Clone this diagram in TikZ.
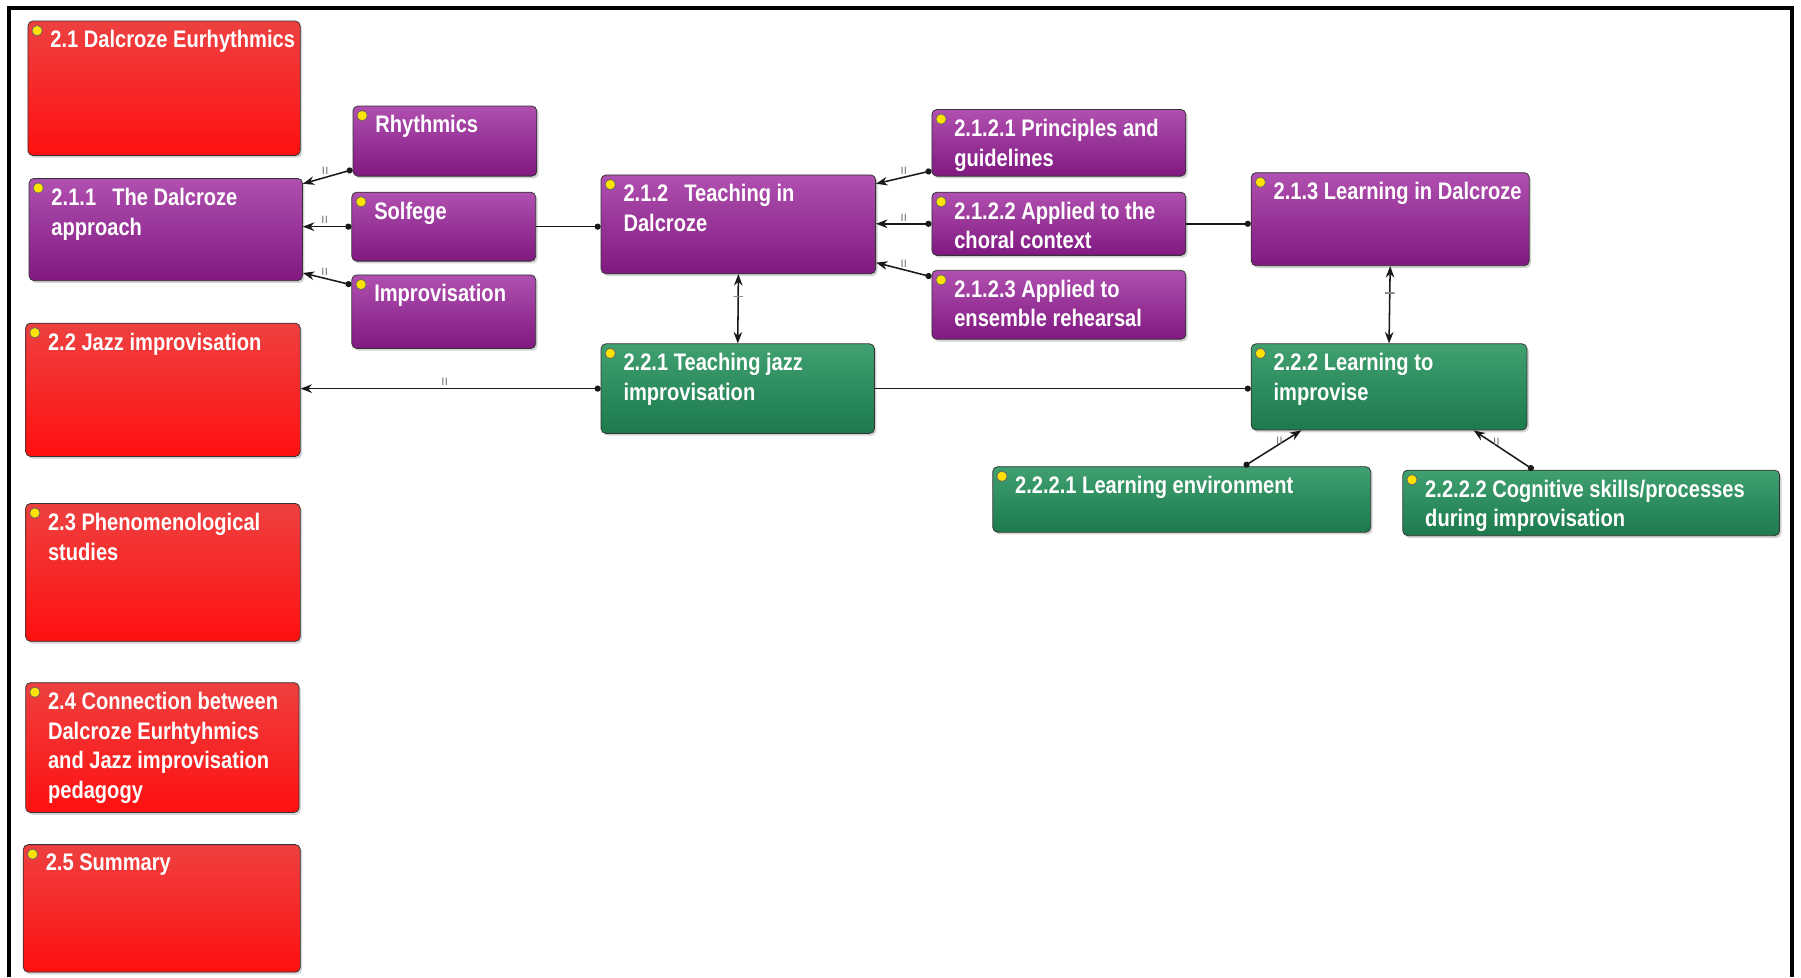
\documentclass[tikz,border=0pt]{standalone}
\usepackage{fontspec}
\newfontfamily\cardfont{Liberation Sans}[FakeStretch=0.84]
\usetikzlibrary{arrows.meta,shadows}
\definecolor{redtop}{RGB}{238,64,64}
\definecolor{redbot}{RGB}{255,16,16}
\definecolor{purtop}{RGB}{176,80,176}
\definecolor{purbot}{RGB}{128,24,128}
\definecolor{grntop}{RGB}{64,160,112}
\definecolor{grnbot}{RGB}{28,122,76}
\tikzset{
  card/.style={draw=black!80, rounded corners=2.5pt, anchor=north west, inner sep=0pt,
               drop shadow={shadow xshift=1pt, shadow yshift=-1.2pt, opacity=.35},
               path picture={\draw[black!60, fill=yellow!85!orange]
                 ([shift={(4.8pt,-5pt)}]path picture bounding box.north west) circle (2.7pt);}},
  redcard/.style={card, top color=redtop, bottom color=redbot},
  purplecard/.style={card, top color=purtop, bottom color=purbot},
  greencard/.style={card, top color=grntop, bottom color=grnbot},
  cardtext/.style={anchor=north west, align=left, text=white, inner xsep=11.7pt, inner ysep=5pt,
                   font=\cardfont\bfseries\fontsize{12.5}{15.5}\selectfont},
  link/.style={{Circle[length=3.2pt]}-{Stealth[length=6pt,width=4.5pt]}, thick, black!90},
  assoc/.style={-{Circle[length=3.2pt]}, thick, black!90},
  both/.style={{Stealth[length=6pt,width=4.5pt]}-{Stealth[length=6pt,width=4.5pt]}, thick, black!90},
  cardmark/.style={font=\sffamily\fontsize{5.5}{6}\selectfont, text=black!55, inner sep=1pt},
  crossbar/.style={draw=black!45, minimum width=5pt, minimum height=0pt, inner sep=0pt}
}
\begin{document}
\begin{tikzpicture}[x=0.6pt, y=-0.6pt]
  \useasboundingbox (0,0) rectangle (1568,851);
  \draw[line width=2.2pt] (8,851) -- (8,7) -- (1560,7) -- (1560,851);

  % left column
  \node[redcard, minimum width=142.2pt, minimum height=70.2pt,
        label={[cardtext]north west:{2.1 Dalcroze Eurhythmics}}] (s21) at (24,18) {};
  \node[purplecard, minimum width=142.8pt, minimum height=53.4pt,
        label={[cardtext]north west:{2.1.1\hspace{5.5pt} The Dalcroze\\approach}}] (s211) at (25,155) {};
  \node[redcard, minimum width=143.4pt, minimum height=69.6pt,
        label={[cardtext]north west:{2.2 Jazz improvisation}}] (s22) at (22,281) {};
  \node[redcard, minimum width=143.4pt, minimum height=72pt,
        label={[cardtext]north west:{2.3 Phenomenological\\studies}}] (s23) at (22,438) {};
  \node[redcard, minimum width=142.8pt, minimum height=67.8pt,
        label={[cardtext]north west:{2.4 Connection between\\Dalcroze Eurhtyhmics\\and Jazz improvisation\\pedagogy}}] (s24) at (22,594) {};
  \node[redcard, minimum width=144.6pt, minimum height=66.6pt,
        label={[cardtext]north west:{2.5 Summary}}] (s25) at (20,735) {};

  % approach parts
  \node[purplecard, minimum width=96pt, minimum height=36.6pt,
        label={[cardtext]north west:{Rhythmics}}] (rhy) at (307,92) {};
  \node[purplecard, minimum width=96pt, minimum height=36pt,
        label={[cardtext]north west:{Solfege}}] (sol) at (306,167) {};
  \node[purplecard, minimum width=96pt, minimum height=38.4pt,
        label={[cardtext]north west:{Improvisation}}] (imp) at (306,239) {};

  % teaching
  \node[purplecard, minimum width=143.4pt, minimum height=51.6pt,
        label={[cardtext]north west:{2.1.2\hspace{5.5pt} Teaching in\\Dalcroze}}] (s212) at (523,152) {};
  \node[purplecard, minimum width=132.6pt, minimum height=34.8pt,
        label={[cardtext]north west:{2.1.2.1 Principles and\\guidelines}}] (s2121) at (811,95) {};
  \node[purplecard, minimum width=132.6pt, minimum height=33pt,
        label={[cardtext]north west:{2.1.2.2 Applied to the\\choral context}}] (s2122) at (811,167) {};
  \node[purplecard, minimum width=132.6pt, minimum height=36pt,
        label={[cardtext]north west:{2.1.2.3 Applied to\\ensemble rehearsal}}] (s2123) at (811,235) {};
  \node[purplecard, minimum width=145.2pt, minimum height=48.6pt,
        label={[cardtext]north west:{2.1.3 Learning in Dalcroze}}] (s213) at (1089,150) {};

  % jazz
  \node[greencard, minimum width=142.8pt, minimum height=46.8pt,
        label={[cardtext]north west:{2.2.1 Teaching jazz\\improvisation}}] (s221) at (523,299) {};
  \node[greencard, minimum width=144pt, minimum height=45pt,
        label={[cardtext]north west:{2.2.2 Learning to\\improvise}}] (s222) at (1089,299) {};
  \node[greencard, minimum width=197.4pt, minimum height=34.2pt,
        label={[cardtext]north west:{2.2.2.1 Learning environment}}] (s2221) at (864,406) {};
  \node[greencard, minimum width=196.8pt, minimum height=34.2pt,
        label={[cardtext]north west:{2.2.2.2 Cognitive skills/processes\\during improvisation}}] (s2222) at (1221,409) {};

  % links
  \draw[link] ([yshift=3.6pt]rhy.south west) -- node[cardmark, pos=.55, above]{II} ([yshift=-3pt]s211.north east);
  \draw[link] (sol.west) -- node[cardmark, pos=.55, above]{II} (sol.west -| s211.east);
  \draw[link] ([yshift=-5.4pt]imp.north west) -- node[cardmark, pos=.55, above]{II} ([yshift=4.2pt]s211.south east);
  \draw[assoc] (sol.east) -- (sol.east -| s212.west);
  \draw[link] ([yshift=3pt]s2121.south west) -- node[cardmark, pos=.5, above]{II} ([yshift=-4.8pt]s212.north east);
  \draw[link] (s2122.west) -- node[cardmark, pos=.5, above]{II} (s2122.west -| s212.east);
  \draw[link] ([yshift=-3.6pt]s2123.north west) -- node[cardmark, pos=.5, above]{II} ([yshift=6pt]s212.south east);
  \draw[assoc] (s2122.east) -- (s2122.east -| s213.west);
  \draw[both] (s212.south) -- node[crossbar, pos=.32]{} (s221.north);
  \draw[both] (s213.south) -- node[crossbar, pos=.35]{} (s222.north);
  \draw[link] (s221.west) -- node[cardmark, pos=.52, above]{II} (s221.west -| s22.east);
  \draw[assoc] (s221.east) -- (s221.east -| s222.west);
  \draw[link] ([xshift=131.4pt]s2221.north west) -- node[cardmark, pos=.72, left]{II} ([xshift=26.4pt]s222.south west);
  \draw[link] ([xshift=68.4pt]s2222.north west) -- node[cardmark, pos=.72, right]{II} ([xshift=116.4pt]s222.south west);
\end{tikzpicture}
\end{document}
